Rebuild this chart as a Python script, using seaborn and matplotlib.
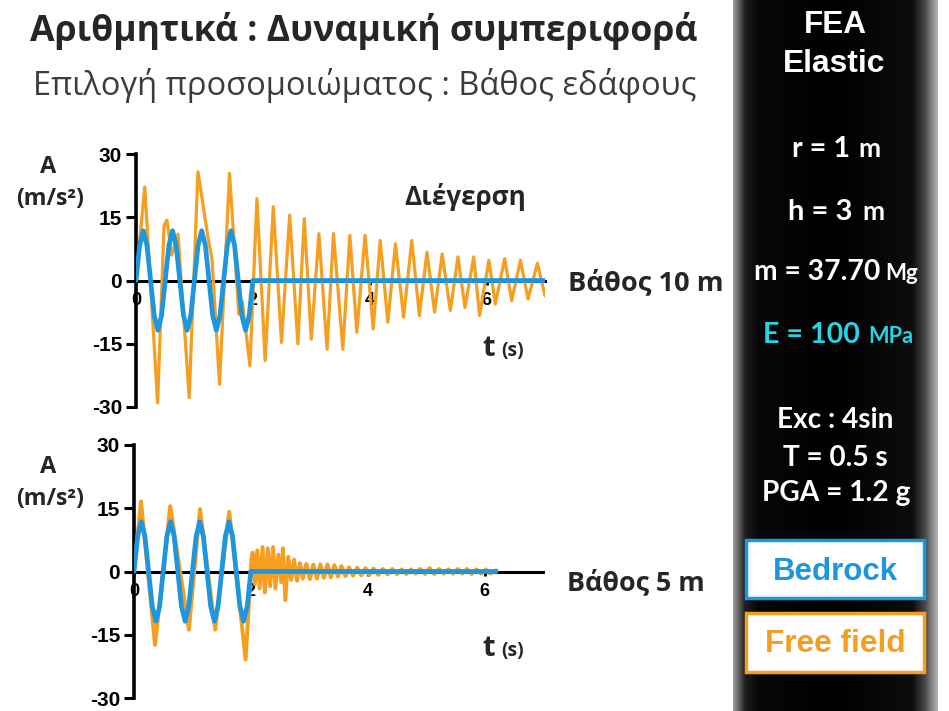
import numpy as np
import pandas as pd
import seaborn as sns
from matplotlib import pyplot as plt
from matplotlib.patches import Rectangle

# Διέγερση (bedrock): 4 κύκλοι ημιτόνου, T = 0.5 s
exc_t = [0.0, 0.0625, 0.125, 0.1875, 0.25, 0.3125, 0.375, 0.4375,
         0.5, 0.5625, 0.625, 0.6875, 0.75, 0.8125, 0.875, 0.9375,
         1.0, 1.0625, 1.125, 1.1875, 1.25, 1.3125, 1.375, 1.4375,
         1.5, 1.5625, 1.625, 1.6875, 1.75, 1.8125, 1.875, 1.9375, 2.0]
exc_a = [0, 8.3, 11.8, 8.3, 0, -8.3, -11.8, -8.3,
         0, 8.3, 11.8, 8.3, 0, -8.3, -11.8, -8.3,
         0, 8.3, 11.8, 8.3, 0, -8.3, -11.8, -8.3,
         0, 8.3, 11.8, 8.3, 0, -8.3, -11.8, -8.3, 0]
exc_end_10m = 7.0
exc_end_5m = 6.2

# Free field, βάθος 10 m
ff10_t = [0.00, 0.15, 0.37, 0.48, 0.53, 0.61, 0.72, 0.91, 1.06, 1.24, 1.30,
          1.43, 1.60, 1.76, 1.82, 1.95, 2.07, 2.21, 2.35, 2.49, 2.63, 2.77,
          2.88, 3.00, 3.13, 3.27, 3.38, 3.54, 3.66, 3.78, 3.92, 4.06, 4.18,
          4.31, 4.44, 4.58, 4.72, 4.85, 4.98, 5.11, 5.24, 5.38, 5.51, 5.63,
          5.78, 5.88, 6.04, 6.15, 6.31, 6.43, 6.58, 6.71, 6.87, 7.00]
ff10_a = [0.0, 22.2, -29.0, 13.0, 14.3, 6.0, 11.0, -27.8, 25.8, 9.5, 5.2,
          -24.6, 25.4, -8.0, -5.0, -20.2, 19.4, -19.0, 17.5, -14.7, 15.5, -15.0,
          14.7, -13.9, 11.1, -16.3, 11.1, -16.3, 10.7, -12.3, 10.7, -11.5, 9.5,
          -9.9, 8.7, -8.7, 9.5, -8.3, 6.7, -7.5, 6.3, -7.1, 5.6, -6.4,
          5.6, -8.3, 4.8, -5.6, 5.2, -4.8, 4.8, -4.4, 4.1, -3.6]

# Free field, βάθος 5 m
ff5_t = [0.00, 0.12, 0.36, 0.62, 0.94, 1.13, 1.39, 1.63, 1.84, 1.91, 1.97,
         2.01, 2.03, 2.07, 2.11, 2.15, 2.20, 2.24, 2.29, 2.33, 2.38, 2.42,
         2.47, 2.52, 2.55, 2.59, 2.64, 2.69, 2.74, 2.79, 2.84, 2.89, 2.95,
         3.01, 3.07, 3.13, 3.19, 3.25, 3.31, 3.37, 3.43, 3.49, 3.55, 3.62,
         3.68, 3.75, 3.82, 3.89, 3.96, 4.03, 4.10, 4.18, 4.26, 4.34, 4.42,
         4.50, 4.58, 4.66, 4.74, 4.82, 4.90, 4.98, 5.06, 5.14, 5.22, 5.30,
         5.38, 5.46, 5.54, 5.62, 5.70, 5.78, 5.86, 5.94, 6.02, 6.10, 6.20]
ff5_a = [0.0, 16.6, -17.4, 15.5, -13.8, 14.8, -13.8, 14.2, -12.0, -20.9, -7.0,
         3.0, 4.5, -3.0, 5.0, -4.0, 5.8, -5.0, 5.5, -3.5, 5.8, -4.0,
         4.0, -2.5, 5.5, -6.8, 3.5, -2.0, 2.8, -2.2, 2.0, -1.7, 1.8,
         -1.8, 1.6, -1.7, 1.7, -1.5, 1.7, -1.4, 1.5, -1.2, 1.3, -1.1,
         1.0, -1.0, 0.9, -0.9, 0.8, -0.8, 0.7, -0.8, 0.6, -0.7, 0.6,
         -0.6, 0.5, -0.6, 0.5, -0.5, 0.6, -0.6, 0.8, -0.6, 0.6, -0.5,
         0.5, -0.5, 0.6, -0.5, 0.6, -0.6, 0.5, -0.5, 0.5, -0.5, 0.3]

x_ticks = [0, 2, 4, 6]
y_ticks = [-30, -15, 0, 15, 30]

BLUE = "#1E96DF"
ORANGE = "#F59E1F"
CYAN = "#22D6E6"
W, H = 949, 711

sns.set_style("white")
plt.rcParams["font.family"] = ["Liberation Sans", "DejaVu Sans"]
plt.rcParams["axes.unicode_minus"] = False

fig = plt.figure(figsize=(W / 100, H / 100), dpi=100)
renderer = fig.canvas.get_renderer()


def put_text(s, x0, y, x1=None, size=20, va="baseline", **kw):
    # x0, y σε pixel από πάνω αριστερά; αν δοθεί x1, το μέγεθος προσαρμόζεται στο πλάτος
    t = fig.text(x0 / W, 1 - y / H, s, fontsize=size, ha="left", va=va, **kw)
    if x1 is not None:
        bb = t.get_window_extent(renderer=renderer)
        t.set_fontsize(size * (x1 - x0) / bb.width)
    return t


def draw_chart(ax, ff_t, ff_a, exc_end, ff_lw):
    ff = pd.DataFrame({"t": ff_t, "A": ff_a})
    exc = pd.DataFrame({"t": exc_t + [exc_end], "A": exc_a + [0]})
    sns.lineplot(data=ff, x="t", y="A", ax=ax, color=ORANGE, lw=ff_lw, zorder=3,
                 solid_joinstyle="round")
    sns.lineplot(data=exc, x="t", y="A", ax=ax, color=BLUE, lw=3.4, zorder=4,
                 solid_joinstyle="round")

    ax.set_xlim(0, 7)
    ax.set_ylim(-30, 30)
    ax.set_xlabel("")
    ax.set_ylabel("")
    ax.patch.set_alpha(0)

    for side in ["top", "right"]:
        ax.spines[side].set_visible(False)
    ax.spines["bottom"].set_position(("data", 0))
    ax.spines["bottom"].set_linewidth(2.2)
    ax.spines["bottom"].set_color("black")
    ax.spines["left"].set_linewidth(2.6)
    ax.spines["left"].set_color("black")

    ax.tick_params(axis="y", left=True, direction="out", length=7, width=2.2,
                   pad=3, colors="black")
    ax.tick_params(axis="x", bottom=True, direction="out", length=3, width=2,
                   pad=5, colors="black")
    ax.set_xticks(x_ticks, labels=[str(v) for v in x_ticks],
                  fontsize=13, fontweight="bold")
    ax.set_yticks(y_ticks, labels=[str(v) for v in y_ticks],
                  fontsize=15, fontweight="bold")


# μαύρη στήλη δεξιά με σκίαση στις άκρες
pax = fig.add_axes([733 / W, 0, 205 / W, 1])
xs = np.linspace(0, 205, 400)
grad = np.interp(xs, [0, 4, 12, 25, 100, 180, 193, 200, 205],
                 [0.62, 0.45, 0.12, 0.03, 0.0, 0.05, 0.3, 0.55, 0.7])
pax.imshow(grad[np.newaxis, :], cmap="gray", vmin=0, vmax=1, aspect="auto",
           extent=[0, 1, 0, 1])
pax.axis("off")

ax_top = fig.add_axes([136 / W, 304 / H, 409 / W, 253 / H])
draw_chart(ax_top, ff10_t, ff10_a, exc_end_10m, 2.3)
ax_bot = fig.add_axes([134 / W, 13 / H, 409 / W, 253 / H])
draw_chart(ax_bot, ff5_t, ff5_a, exc_end_5m, 2.8)

GREEK = ["Open Sans", "DejaVu Sans"]
LAT = ["Lato", "Open Sans", "DejaVu Sans"]

# τίτλοι
put_text("Αριθμητικά : Δυναμική συμπεριφορά", 30, 41, 697, family=GREEK, fontweight="bold")
put_text("Επιλογή προσομοιώματος : Βάθος εδάφους", 33, 95, 695, family=GREEK, color="#3C3C3C")

# ετικέτες γραφημάτων
for dy in [0, 300]:
    put_text("A", 40, 173 + dy, size=17, family=GREEK, fontweight="bold")
    put_text("(m/s²)", 16, 205 + dy, 84, family=GREEK, fontweight="bold")
    put_text("t", 482, 356 + dy, size=21, family=GREEK, fontweight="bold")
    put_text("(s)", 501, 356 + dy, size=14, family=GREEK, fontweight="bold")
put_text("Διέγερση", 404, 205, 526, family=GREEK, fontweight="bold")
put_text("Βάθος 10 m", 568, 290, 723, family=GREEK, fontweight="bold")
put_text("Βάθος 5 m", 567, 590, 705, family=GREEK, fontweight="bold")

# στοιχεία προσομοίωσης
put_text("FEA", 804, 33, 867, color="white", fontweight="bold")
put_text("Elastic", 783, 72, 885, color="white", fontweight="bold")
params = [("r = 1", 792, 850, "m", 858, 880, 157, "white"),
          ("h = 3", 788, 852, "m", 862, 884, 220, "white"),
          ("m = 37.70", 754, 880, "Mg", 885, 918, 280, "white"),
          ("E = 100", 763, 860, "MPa", 868, 913, 343, CYAN)]
for main, a0, a1, unit, u0, u1, base, col in params:
    put_text(main, a0, base, a1, family=LAT, fontweight="bold", color=col)
    put_text(unit, u0, base, u1, family=LAT, fontweight="bold", color=col)
put_text("Exc : 4sin", 777, 428, 894, family=LAT, fontweight="bold", color="white")
put_text("T = 0.5 s", 783, 466, 888, family=LAT, fontweight="bold", color="white")
put_text("PGA = 1.2 g", 762, 501, 910, family=LAT, fontweight="bold", color="white")

# υπόμνημα
for label, col, y0, y1, t0, t1, base in [("Bedrock", BLUE, 540, 598, 773, 898, 580),
                                          ("Free field", ORANGE, 613, 672, 765, 905, 652)]:
    fig.add_artist(Rectangle((746 / W, 1 - y1 / H), 178 / W, (y1 - y0) / H,
                             transform=fig.transFigure, facecolor="white",
                             edgecolor=col, lw=2.5, zorder=2))
    put_text(label, t0, base, t1, color=col, fontweight="bold", zorder=3)

fig.savefig("out.png", dpi=100)
